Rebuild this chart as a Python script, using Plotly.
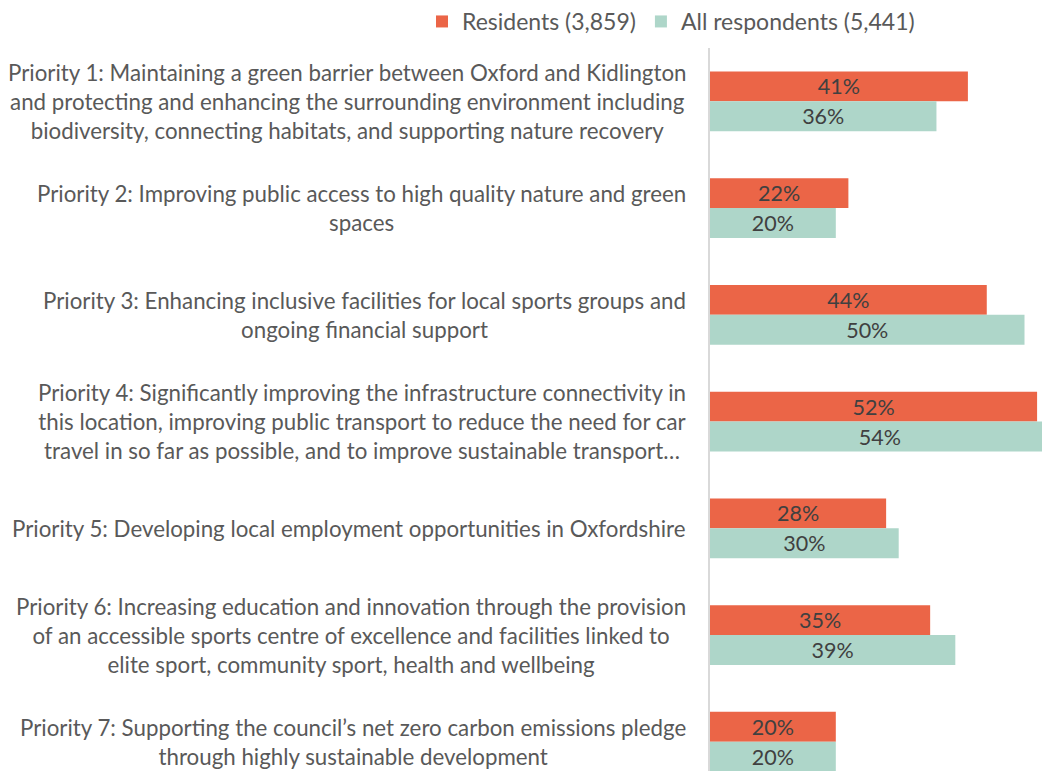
import plotly.graph_objects as go

# Priorities and survey shares (percent)
priorities = [
    "Priority 1: Maintaining a green barrier between Oxford and Kidlington<br>and protecting and enhancing the surrounding environment including<br>biodiversity, connecting habitats, and supporting nature recovery",
    "Priority 2: Improving public access to high quality nature and green<br>spaces",
    "Priority 3: Enhancing inclusive facilities for local sports groups and<br>ongoing financial support",
    "Priority 4: Significantly improving the infrastructure connectivity in<br>this location, improving public transport to reduce the need for car<br>travel in so far as possible, and to improve sustainable transport…",
    "Priority 5: Developing local employment opportunities in Oxfordshire",
    "Priority 6: Increasing education and innovation through the provision<br>of an accessible sports centre of excellence and facilities linked to<br>elite sport, community sport, health and wellbeing",
    "Priority 7: Supporting the council’s net zero carbon emissions pledge<br>through highly sustainable development",
]
residents = [41, 22, 44, 52, 28, 35, 20]
all_respondents = [36, 20, 50, 54, 30, 39, 20]

series_names = ["Residents (3,859)", "All respondents (5,441)"]
colors = ["#EB6547", "#AED6C9"]

FONT = "Lato"
TEXT_GREY = "#595959"

idx = list(range(len(priorities)))

fig = go.Figure()
for name, vals, col in zip(series_names, [residents, all_respondents], colors):
    fig.add_trace(go.Bar(
        y=idx, x=vals, orientation="h", name=name,
        marker=dict(color=col, line=dict(width=0)),
        text=[f"{v}%" for v in vals], textposition="inside",
        insidetextanchor="middle", constraintext="none",
        textfont=dict(family=FONT, size=21.5, color="#404040"),
        hoverinfo="skip",
    ))

# Category labels, right-aligned to the axis with centred lines
for i, lab in enumerate(priorities):
    fig.add_annotation(
        x=0, xref="paper", y=i, yref="y", text=lab, showarrow=False,
        xanchor="right", yanchor="middle", align="center", xshift=-22,
        font=dict(family=FONT, size=22.3, color=TEXT_GREY),
    )

fig.update_layout(
    width=1042, height=771,
    margin=dict(l=710, r=0, t=48, b=0, autoexpand=False),
    paper_bgcolor="white", plot_bgcolor="white",
    barmode="group", bargap=0.44, bargroupgap=0,
    showlegend=True,
    legend=dict(
        orientation="h", xref="paper", yref="container",
        x=-0.8675, y=1.0, xanchor="left", yanchor="top",
        font=dict(family=FONT, size=23, color=TEXT_GREY),
        itemwidth=30, traceorder="normal",
    ),
    xaxis=dict(range=[0, 52.78], visible=False, fixedrange=True),
    yaxis=dict(
        range=[6.274, -0.5], showticklabels=False, ticks="",
        showgrid=False, zeroline=False,
        showline=True, linecolor="#D9D9D9", linewidth=2,
    ),
    font=dict(family=FONT),
)

fig.write_html("out.html")
